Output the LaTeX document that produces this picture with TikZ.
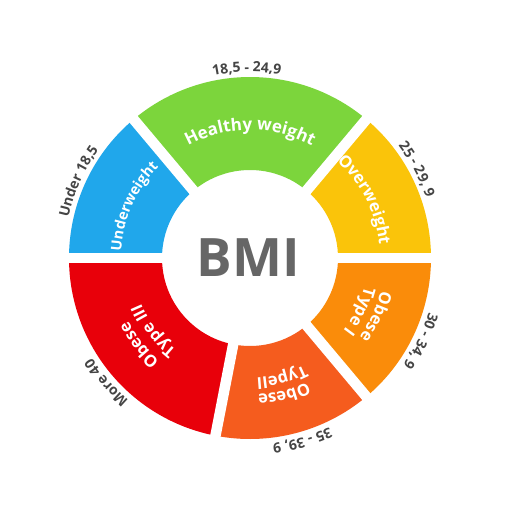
\documentclass[tikz,border=0pt]{standalone}
\usepackage{fontspec}
\setmainfont{Open Sans}
\usetikzlibrary{decorations.text}
\definecolor{cgreen}{HTML}{7CD53C}
\definecolor{cblue}{HTML}{20A7EB}
\definecolor{cyellow}{HTML}{FAC40A}
\definecolor{corange}{HTML}{FA8C0A}
\definecolor{cored}{HTML}{F55C1E}
\definecolor{cred}{HTML}{E8000A}
\definecolor{cbmi}{HTML}{666666}
\definecolor{clabel}{HTML}{454545}
\newcommand\seg[3]{\fill[#1] (#2:181) arc[start angle=#2, end angle=#3, radius=181] -- (#3:88) arc[start angle=#3, end angle=#2, radius=88] -- cycle;}
% #1 format, #2 centre angle, #3 baseline radius, #4 text
\newcommand\ctext[4]{\path[decorate,decoration={text along path,text align=center,text={|#1|#4}}] ({#2+45}:#3) arc[start angle={#2+45}, end angle={#2-45}, radius=#3];}
\newcommand\inw{\fontsize{16.5}{16.5}\selectfont\bfseries\color{white}}
\newcommand\outl{\fontsize{14}{14}\selectfont\bfseries\color{clabel}}
\begin{document}
\begin{tikzpicture}[x=1pt,y=1pt]
\useasboundingbox[fill=white] (-250,-254) rectangle (262,258);
\seg{cyellow}{0}{50}
\seg{cgreen}{50}{130}
\seg{cblue}{130}{180}
\seg{cred}{180}{259}
\seg{cored}{259}{310}
\seg{corange}{310}{360}
\foreach \a in {0,50,130,180,259,310} \draw[white,line width=10.5] (0,0) -- (\a:200);
\node[inner sep=0, text=cbmi, font=\fontsize{53}{53}\selectfont\bfseries] (bmi) at (-1.5,0) {BMI};
% inner labels
\ctext{\fontsize{17}{17}\selectfont\bfseries\color{white}}{90}{128}{Healthy weight}
\ctext{\fontsize{14.5}{14.5}\selectfont\bfseries\color{white}}{156}{129}{Underweight}
\ctext{\inw}{27}{130}{Overweight}
\ctext{\inw}{-25}{135}{Obese}
\ctext{\inw}{-26}{118}{Type I}
\ctext{\inw}{-76}{137}{Obese}
\ctext{\inw}{-75}{120}{TypeII}
\ctext{\inw}{218}{137}{Obese}
\ctext{\inw}{217}{118}{Type III}
% outer labels
\ctext{\outl}{91}{186}{18,5 - 24,9}
\ctext{\outl}{156}{186}{Under 18,5}
\ctext{\outl}{28}{186}{25 - 29, 9}
\ctext{\outl}{-26}{187}{30 - 34, 9}
\ctext{\outl}{-74}{187}{35 - 39, 9}
\ctext{\outl}{221}{187}{More 40}
\end{tikzpicture}
\end{document}
